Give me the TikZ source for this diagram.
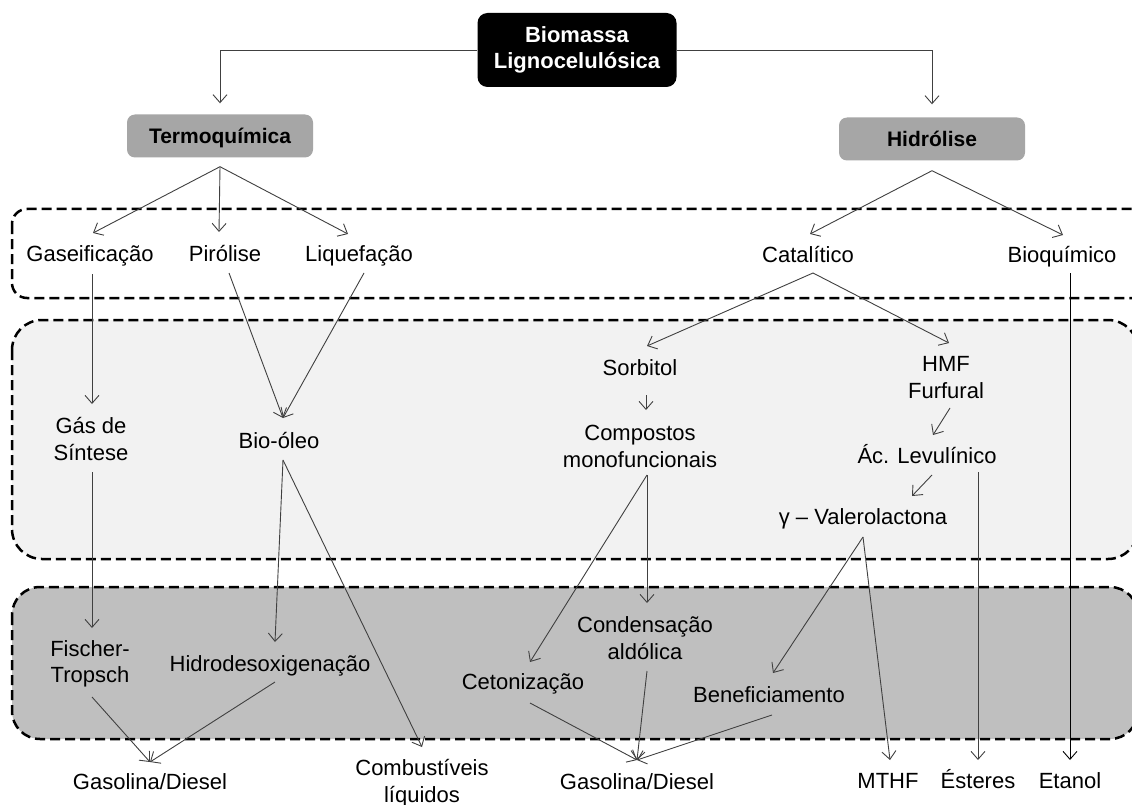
\documentclass[tikz,border=0pt]{standalone}
\usepackage{fontspec}
\setmainfont{Liberation Sans}
\usetikzlibrary{arrows.meta,calc}
\definecolor{boxgray}{HTML}{A6A6A6}
\definecolor{lightbg}{HTML}{F2F2F2}
\definecolor{midbg}{HTML}{BFBFBF}
\definecolor{linec}{HTML}{404040}
\begin{document}
\begin{tikzpicture}[x=1pt,y=-1pt,
  arr/.style={draw=linec, line width=0.9pt, -{Straight Barb[length=8pt,width=14pt]}},
  lbl/.style={font=\fontsize{22}{27}\selectfont, inner sep=0pt, anchor=base},
  ml/.style={font=\fontsize{22}{27}\selectfont, inner sep=0pt, align=center},
  blackbox/.style={fill=black, text=white, rounded corners=10pt, minimum width=199pt, minimum height=74pt, align=center, inner sep=0pt, font=\bfseries\fontsize{22}{26}\selectfont},
  graybox/.style={fill=boxgray, rounded corners=8pt, minimum width=186pt, minimum height=43pt, inner sep=0pt, text height=15pt, text depth=0pt, font=\bfseries\fontsize{21}{25}\selectfont},
  dbox/.style={draw=black, line width=2.5pt, dash pattern=on 10pt off 5pt, line cap=butt}]
\clip (0,0) rectangle (1132,805);
\fill[white] (0,0) rectangle (1132,805);
% background bands
\draw[dbox, rounded corners=15pt] (12,209) rectangle (1160,298);
\draw[dbox, fill=lightbg, rounded corners=30pt] (12,320) rectangle (1138,559);
\draw[dbox, fill=midbg, rounded corners=28pt] (12,587) rectangle (1138,739);

% top nodes
\node[blackbox] (bio) at (577,50) {Biomassa\\Lignocelulósica};
\node[graybox] (termo) at (220,136) {Termoquímica};
\node[graybox] (hidro) at (932,139) {Hidrólise};

% row 1
\node[lbl] (gasei) at (90,261) {Gaseificação};
\node[lbl] (piro) at (225,261) {Pirólise};
\node[lbl] (liq) at (359,261) {Liquefação};
\node[lbl] (cata) at (808,262) {Catalítico};
\node[lbl] (bioq) at (1062,262) {Bioquímico};

% row 2
\node[ml] (gds) at (91,439) {Gás de\\Síntese};
\node[lbl] (bioleo) at (279,448) {Bio-óleo};
\node[lbl] (sorb) at (640,375) {Sorbitol};
\node[ml] (comp) at (640,446) {Compostos\\monofuncionais};
\node[ml] (hmf) at (946,378) {HMF\\Furfural};
\node[lbl] (acl) at (927,463) {Ác. Levulínico};
\node[lbl] (gvl) at (863,524) {γ – Valerolactona};

% row 3
\node[ml, font=\fontsize{22}{26}\selectfont] (fisch) at (90,664) {Fischer-\\Tropsch};
\node[lbl] (hdo) at (270,671) {Hidrodesoxigenação};
\node[lbl] (ceto) at (523,689) {Cetonização};
\node[ml] (cond) at (645,638) {Condensação\\aldólica};
\node[lbl] (benef) at (769,702) {Beneficiamento};

% products
\node[lbl] (gas1) at (150,789) {Gasolina/Diesel};
\node[ml] (comb) at (422,783) {Combustíveis\\líquidos};
\node[lbl] (gas2) at (637,789) {Gasolina/Diesel};
\node[lbl] (mthf) at (888,788) {MTHF};
\node[lbl] (est) at (978,788) {Ésteres};
\node[lbl] (etanol) at (1070,788) {Etanol};

% connectors
\draw[arr] (bio.west) -| ($(termo.north)+(0,-11)$);
\draw[arr] (bio.east) -| ($(hidro.north)+(0,-13)$);
\coordinate (tapex) at ($(termo.south)+(0,9)$);
\coordinate (hapex) at ($(hidro.south)+(0,10)$);
\draw[arr] (tapex) -- ($(gasei.base)+(3,-28)$);
\draw[arr] (tapex) -- ($(piro.base)+(-6,-29)$);
\draw[arr] (tapex) -- ($(liq.base)+(-11,-27)$);
\draw[arr] (hapex) -- ($(cata.base)+(2,-28)$);
\draw[arr] (hapex) -- ($(bioq.base)+(1,-27)$);

\draw[arr] ($(gasei.base)+(2,13)$) -- ($(gds.center)+(1,-35)$);
\draw[arr] ($(piro.base)+(4,12)$) -- ($(bioleo.base)+(4,-30)$);
\draw[arr] ($(liq.base)+(5,12)$) -- ($(bioleo.base)+(4,-30)$);
\draw[arr] ($(gds.center)+(1,33)$) -- ($(fisch.center)+(2,-36)$);
\draw[arr] ($(bioleo.base)+(4,12)$) -- ($(hdo.base)+(5,-29)$);
\draw[arr] ($(bioleo.base)+(4,12)$) -- ($(comb.center)+(0,-36)$);
\draw[arr] ($(fisch.center)+(2,33)$) -- ($(gas1.base)+(0,-27)$);
\draw[arr] ($(hdo.base)+(5,11)$) -- ($(gas1.base)+(0,-27)$);

\draw[arr] ($(cata.base)+(5,11)$) -- ($(sorb.base)+(7,-29)$);
\draw[arr] ($(cata.base)+(5,11)$) -- ($(hmf.center)+(3,-35)$);
\draw[arr] ($(sorb.base)+(6,20)$) -- ($(comp.center)+(6,-36)$);
\draw[arr] ($(comp.center)+(7,29)$) -- ($(ceto.base)+(7,-27)$);
\draw[arr] ($(comp.center)+(7,29)$) -- ($(cond.center)+(2,-35)$);
\draw[arr] ($(hmf.center)+(4,30)$) -- ($(acl.base)+(6,-28)$);
\draw[arr] ($(acl.base)+(5,12)$) -- ($(gvl.base)+(49,-28)$);
\draw[arr] ($(acl.base)+(51,9)$) -- ($(est.base)+(0,-28)$);
\draw[arr, draw=black] ($(bioq.base)+(8,11)$) -- ($(etanol.base)+(0,-28)$);
\draw[arr] ($(gvl.base)+(0,13)$) -- ($(benef.base)+(4,-29)$);
\draw[arr] ($(gvl.base)+(0,13)$) -- ($(mthf.base)+(2,-28)$);
\draw[arr] ($(ceto.base)+(7,14)$) -- ($(gas2.base)+(0,-29)$);
\draw[arr] ($(cond.center)+(2,33)$) -- ($(gas2.base)+(0,-29)$);
\draw[arr] ($(benef.base)+(3,13)$) -- ($(gas2.base)+(0,-29)$);
\end{tikzpicture}
\end{document}
